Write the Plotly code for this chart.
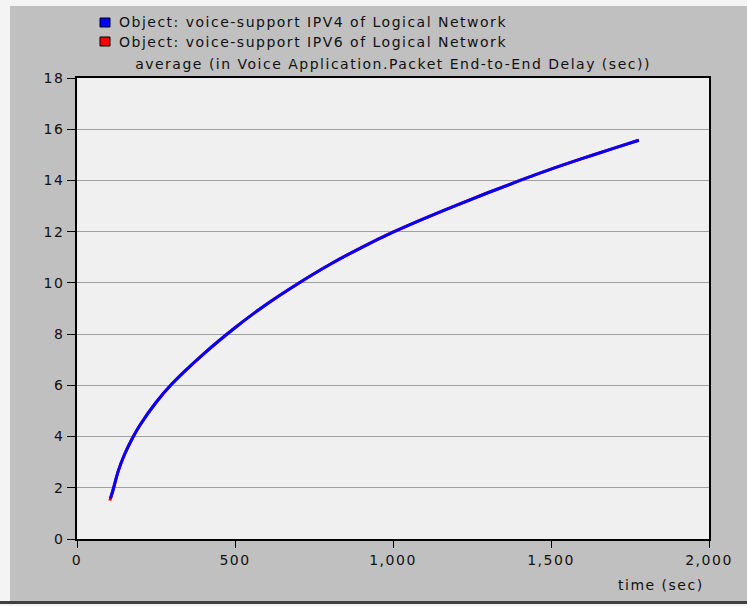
import plotly.graph_objects as go

# Average voice packet end-to-end delay over simulation time (seconds)
time_ipv4 = [106, 116, 130, 150, 177, 200, 250, 300, 400, 500, 600, 700, 800, 900, 1000,
             1100, 1200, 1300, 1400, 1500, 1600, 1700, 1778]
delay_ipv4 = [1.58, 2.0, 2.63, 3.29, 3.97, 4.46, 5.33, 6.05, 7.22, 8.25, 9.17, 9.98, 10.72, 11.38, 11.98,
              12.52, 13.03, 13.52, 13.99, 14.44, 14.86, 15.26, 15.57]

time_ipv6 = [104, 116, 130, 150, 177, 200, 250, 300, 400, 500, 600, 700, 800, 900, 1000,
             1100, 1200, 1300, 1400, 1500, 1600, 1700, 1778]
delay_ipv6 = [1.5, 2.0, 2.63, 3.29, 3.97, 4.46, 5.33, 6.05, 7.22, 8.25, 9.17, 9.98, 10.72, 11.38, 11.98,
              12.52, 13.03, 13.52, 13.99, 14.44, 14.86, 15.26, 15.57]

series_names = [
    "Object: voice-support IPV4 of Logical Network",
    "Object: voice-support IPV6 of Logical Network",
]
series_colors = ["#0000ff", "#ff0000"]

x_ticks = [0, 500, 1000, 1500, 2000]
y_ticks = [0, 2, 4, 6, 8, 10, 12, 14, 16, 18]

FONT = "DejaVu Sans"
TXT = "#111111"
W, H = 747, 606
ML, MR, MT, MB = 77, 38, 78, 67
PW, PH = W - ML - MR, H - MT - MB


def px_x(p):
    return (p - ML) / PW


def px_y(p):
    return (H - MB - p) / PH


fig = go.Figure()

# IPV6 underneath, IPV4 on top
fig.add_trace(go.Scatter(x=time_ipv6, y=delay_ipv6, mode="lines", name=series_names[1],
                         line=dict(color=series_colors[1], width=3, shape="spline"),
                         showlegend=False, hoverinfo="skip"))
fig.add_trace(go.Scatter(x=time_ipv4, y=delay_ipv4, mode="lines", name=series_names[0],
                         line=dict(color=series_colors[0], width=3, shape="spline"),
                         showlegend=False, hoverinfo="skip"))

axis_common = dict(
    showline=True, linecolor="#000000", linewidth=1.5, mirror=True,
    ticks="outside", tickcolor="#000000", tickwidth=1,
    zeroline=False,
    tickfont=dict(family=FONT, size=14, color=TXT),
)

fig.update_xaxes(range=[0, 2000], tickvals=x_ticks, tickformat=",d",
                 showgrid=False, ticklen=7, **axis_common)
fig.update_yaxes(range=[0, 18], tickvals=y_ticks, showgrid=True,
                 gridcolor="#a0a0a0", gridwidth=1.3, ticklen=8, **axis_common)

shapes = [
    # light strips along left and top edges
    dict(type="rect", xref="paper", yref="paper", x0=px_x(0), x1=px_x(10),
         y0=px_y(H), y1=px_y(0), fillcolor="#f4f4f4", line_width=0, layer="above"),
    dict(type="rect", xref="paper", yref="paper", x0=px_x(0), x1=px_x(W),
         y0=px_y(6), y1=px_y(0), fillcolor="#f4f4f4", line_width=0, layer="above"),
    # dark bottom edge
    dict(type="rect", xref="paper", yref="paper", x0=px_x(0), x1=px_x(W),
         y0=px_y(604), y1=px_y(601), fillcolor="#404040", line_width=0, layer="above"),
    dict(type="rect", xref="paper", yref="paper", x0=px_x(0), x1=px_x(W),
         y0=px_y(H), y1=px_y(604), fillcolor="#f4f4f4", line_width=0, layer="above"),
]

annotations = [dict(text="time (sec)", xref="paper", yref="paper",
                    x=px_x(706), y=px_y(585), xanchor="right", yanchor="middle", align="right",
                    showarrow=False, font=dict(family=FONT, size=14, color=TXT))]

# key: colour swatch + series label per row
for i, (name, col) in enumerate(zip(series_names, series_colors)):
    yc = 22.5 + 19 * i
    shapes.append(dict(type="rect", xref="paper", yref="paper",
                       x0=px_x(100), x1=px_x(110), y0=px_y(yc + 4.5), y1=px_y(yc - 4.5),
                       fillcolor=col, line=dict(color="#000000", width=1), layer="above"))
    annotations.append(dict(text=name, xref="paper", yref="paper",
                            x=px_x(117), y=px_y(yc), xanchor="left", yanchor="middle",
                            align="left", showarrow=False,
                            font=dict(family=FONT, size=14, color=TXT)))

fig.update_layout(
    width=W, height=H,
    margin=dict(l=ML, r=MR, t=MT, b=MB, pad=0),
    paper_bgcolor="#c0c0c0",
    plot_bgcolor="#f0f0f0",
    font=dict(family=FONT, size=14, color=TXT),
    title=dict(text="average (in Voice Application.Packet End-to-End Delay (sec))",
               x=0.5, xref="paper", xanchor="center",
               y=1 - 64 / H, yref="container", yanchor="middle",
               font=dict(family=FONT, size=14, color=TXT)),
    showlegend=False,
    annotations=annotations,
    shapes=shapes,
)

# wide lettering of the original dialog font
wide_text = ("document.querySelectorAll('svg text').forEach(function(t)"
             "{t.style.letterSpacing='1.5px';});")

fig.write_html("out.html", post_script=wide_text)
